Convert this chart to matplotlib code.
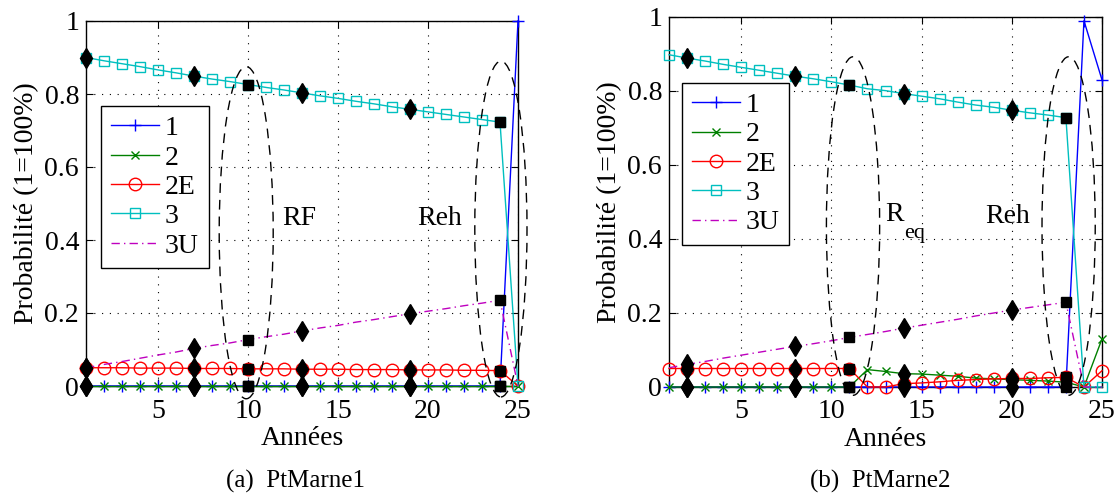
import matplotlib
matplotlib.use("Agg")
import matplotlib.pyplot as plt
from matplotlib.patches import Ellipse
import numpy as np

plt.rcParams['font.family'] = ['Liberation Serif', 'DejaVu Serif']
plt.rcParams['mathtext.fontset'] = 'custom'
plt.rcParams['mathtext.rm'] = 'Liberation Serif'
plt.rcParams['mathtext.it'] = 'Liberation Serif:italic'

years = list(range(1, 26))
series_labels = ['1', '2', '2E', '3', '3U']
xtick_vals = [5, 10, 15, 20, 25]
ytick_vals = [0, 0.2, 0.4, 0.6, 0.8, 1]
ytick_labels = ['0', '0.2', '0.4', '0.6', '0.8', '1']

# ---- PtMarne1 ----
a_s1 = [0]*24 + [1.0]
a_s2 = [0]*25
a_s2E = [0.050, 0.050, 0.050, 0.049, 0.049, 0.049, 0.048, 0.048, 0.048, 0.047,
         0.047, 0.047, 0.046, 0.046, 0.046, 0.045, 0.045, 0.045, 0.044, 0.044,
         0.044, 0.043, 0.043, 0.042, 0.0]
a_s3 = [0.900, 0.891, 0.883, 0.875, 0.866, 0.858, 0.849, 0.841, 0.834, 0.826,
        0.818, 0.811, 0.803, 0.795, 0.788, 0.780, 0.773, 0.765, 0.758, 0.751,
        0.744, 0.737, 0.730, 0.723, 0.0]
a_s3U = [0.050, 0.059, 0.067, 0.076, 0.085, 0.093, 0.103, 0.111, 0.118, 0.127,
         0.135, 0.142, 0.151, 0.159, 0.166, 0.175, 0.182, 0.190, 0.198, 0.205,
         0.212, 0.220, 0.227, 0.235, 0.0]
a_diamond_years = [1, 7, 13, 19]
a_square_years = [10, 24]

# ---- PtMarne2 ----
b_s1 = [0]*23 + [0.99, 0.83]
b_s2 = [0]*11 + [0.047, 0.042, 0.036, 0.035, 0.032, 0.029, 0.024, 0.022, 0.020,
                 0.018, 0.016, 0.013, 0.0, 0.13]
b_s2E = [0.050]*11 + [0.0, 0.0, 0.009, 0.011, 0.014, 0.018, 0.020, 0.022, 0.023,
                      0.023, 0.025, 0.026, 0.0, 0.044]
b_s3 = [0.898, 0.889, 0.881, 0.872, 0.864, 0.856, 0.848, 0.840, 0.833, 0.825,
        0.816, 0.806, 0.801, 0.793, 0.786, 0.779, 0.770, 0.762, 0.756, 0.748,
        0.741, 0.735, 0.728, 0.0, 0.0]
b_s3U = [0.052, 0.061, 0.069, 0.078, 0.086, 0.094, 0.102, 0.110, 0.117, 0.125,
         0.134, 0.142, 0.150, 0.159, 0.167, 0.175, 0.183, 0.192, 0.200, 0.208,
         0.215, 0.222, 0.229, 0.0, 0.0]
b_diamond_years = [2, 8, 14, 20]
b_square_years = [11, 23]

styles = [
    dict(color='#0000FF', marker='+', ms=8, mew=1.0, ls='-'),
    dict(color='#008000', marker='x', ms=5.5, mew=1.0, ls='-'),
    dict(color='#FF0000', marker='o', ms=9, mfc='none', mew=1.0, ls='-'),
    dict(color='#00BFBF', marker='s', ms=6.5, mfc='none', mew=1.0, ls='-'),
    dict(color='#BF00BF', marker=None, ls=(0, (6, 3, 1, 3))),
]

FS = 20

fig = plt.figure(figsize=(11.19, 4.96), dpi=100)
W, H = 1119, 496


def make_axes(x0, x1, ytop, ybot):
    return fig.add_axes([x0 / W, 1 - ybot / H, (x1 - x0) / W, (ybot - ytop) / H])


def draw_panel(ax, series, dyears, syears, ellipses, texts, leg_anchor, sub=None):
    handles = []
    for vals, st, lab in zip(series, styles, series_labels):
        h, = ax.plot(years, vals, lw=1.0, label=lab, clip_on=False, zorder=3, **st)
        handles.append(h)
    for yrs, mk, ms in ((dyears, 'd', 10.5), (syears, 's', 7)):
        for vals in series:
            ax.plot(yrs, [vals[y - 1] for y in yrs], ls='none', marker=mk, ms=ms,
                    color='k', mec='k', clip_on=False, zorder=5)
    for (cx, cy, w, h) in ellipses:
        ax.add_patch(Ellipse((cx, cy), w, h, fill=False, ec='k', lw=1.0,
                             ls=(0, (7, 5)), clip_on=False, zorder=4))
    for (tx, ty, s) in texts:
        ax.text(tx, ty, s, fontsize=FS, ha='left', va='center', zorder=6)
    if sub is not None:
        tx, ty, s = sub
        ax.annotate(s, xy=(tx, ty), xytext=(13.5, -13), textcoords='offset points',
                    fontsize=16, ha='left', va='center', zorder=6)
    ax.set_xlim(1, 25)
    ax.set_ylim(0, 1)
    ax.set_xticks(xtick_vals)
    ax.set_xticklabels([str(v) for v in xtick_vals])
    ax.set_yticks(ytick_vals)
    ax.set_yticklabels(ytick_labels)
    ax.tick_params(direction='in', top=True, right=True, length=5, width=0.8,
                   labelsize=FS)
    ax.tick_params(axis='x', pad=9)
    ax.tick_params(axis='y', pad=5)
    ax.grid(True, color='k', lw=0.8, ls=(0, (1, 6)))
    for sp in ax.spines.values():
        sp.set_linewidth(1.0)
    ax.set_xlabel('Années', fontsize=FS, labelpad=2)
    ax.set_ylabel('Probabilité (1=100%)', fontsize=FS, labelpad=4)
    leg = ax.legend(handles=handles, loc='upper left', bbox_to_anchor=leg_anchor,
                    borderaxespad=0, fontsize=FS, numpoints=1, handlelength=1.75,
                    handletextpad=0.2, labelspacing=0.14, borderpad=0.35,
                    fancybox=False, framealpha=1, edgecolor='k')
    leg.get_frame().set_linewidth(1.0)
    leg.set_zorder(10)


ax1 = make_axes(86, 518, 21, 386)
draw_panel(ax1, [a_s1, a_s2, a_s2E, a_s3, a_s3U], a_diamond_years, a_square_years,
           [(9.9, 0.42, 3.0, 0.91), (24.05, 0.43, 2.9, 0.92)],
           [(11.9, 0.46, 'RF'), (19.4, 0.46, 'Reh')], (0.035, 0.767))

ax2 = make_axes(669, 1102, 17, 387)
draw_panel(ax2, [b_s1, b_s2, b_s2E, b_s3, b_s3U], b_diamond_years, b_square_years,
           [(11.2, 0.435, 2.95, 0.915), (23.15, 0.435, 2.95, 0.915)],
           [(13.0, 0.465, 'R'), (18.5, 0.46, 'Reh')], (0.030, 0.822),
           sub=(13.0, 0.465, 'eq'))

fig.text(295 / W, 1 - 481 / H, '(a)  PtMarne1', fontsize=18, ha='center', va='center')
fig.text(880 / W, 1 - 481 / H, '(b)  PtMarne2', fontsize=18, ha='center', va='center')

fig.savefig('out.png', dpi=100)
